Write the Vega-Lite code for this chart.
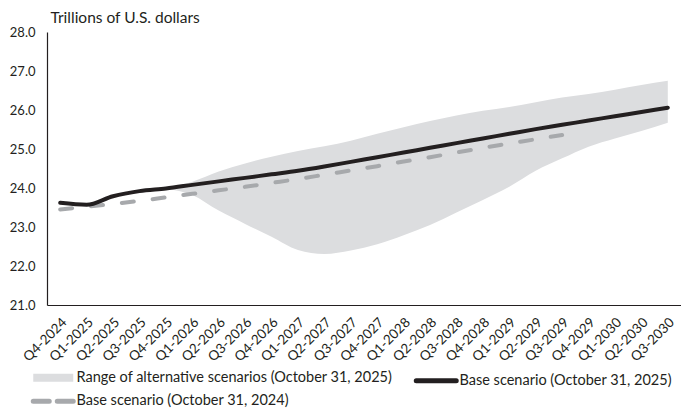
{
  "$schema": "https://vega.github.io/schema/vega-lite/v6.json",
  "width": 634,
  "height": 273,
  "autosize": {"type": "none"},
  "padding": {"left": 47, "top": 32, "right": 0, "bottom": 106},
  "background": "white",
  "config": {
    "view": {"stroke": null},
    "font": "Lato",
    "axis": {"labelColor": "#231f20", "titleColor": "#231f20", "domainColor": "#231f20", "domainWidth": 1.2, "ticks": false, "grid": false, "labelFont": "Lato", "labelFontSize": 13, "labelOverlap": false},
    "axisY": {"tickCount": 8, "labelOverlap": false},
    "legend": {"labelColor": "#231f20"}
  },
  "datasets": {
    "band": [
      {"q": "Q4-2025", "series": "Range of alternative scenarios (October 31, 2025)", "lo": 23.99, "hi": 24.0},
      {"q": "Q1-2026", "series": "Range of alternative scenarios (October 31, 2025)", "lo": 23.82, "hi": 24.16},
      {"q": "Q2-2026", "series": "Range of alternative scenarios (October 31, 2025)", "lo": 23.42, "hi": 24.42},
      {"q": "Q3-2026", "series": "Range of alternative scenarios (October 31, 2025)", "lo": 23.08, "hi": 24.63},
      {"q": "Q4-2026", "series": "Range of alternative scenarios (October 31, 2025)", "lo": 22.75, "hi": 24.8},
      {"q": "Q1-2027", "series": "Range of alternative scenarios (October 31, 2025)", "lo": 22.41, "hi": 24.95},
      {"q": "Q2-2027", "series": "Range of alternative scenarios (October 31, 2025)", "lo": 22.31, "hi": 25.07},
      {"q": "Q3-2027", "series": "Range of alternative scenarios (October 31, 2025)", "lo": 22.4, "hi": 25.21},
      {"q": "Q4-2027", "series": "Range of alternative scenarios (October 31, 2025)", "lo": 22.56, "hi": 25.39},
      {"q": "Q1-2028", "series": "Range of alternative scenarios (October 31, 2025)", "lo": 22.79, "hi": 25.56},
      {"q": "Q2-2028", "series": "Range of alternative scenarios (October 31, 2025)", "lo": 23.05, "hi": 25.72},
      {"q": "Q3-2028", "series": "Range of alternative scenarios (October 31, 2025)", "lo": 23.37, "hi": 25.86},
      {"q": "Q4-2028", "series": "Range of alternative scenarios (October 31, 2025)", "lo": 23.69, "hi": 25.98},
      {"q": "Q1-2029", "series": "Range of alternative scenarios (October 31, 2025)", "lo": 24.03, "hi": 26.08},
      {"q": "Q2-2029", "series": "Range of alternative scenarios (October 31, 2025)", "lo": 24.44, "hi": 26.2},
      {"q": "Q3-2029", "series": "Range of alternative scenarios (October 31, 2025)", "lo": 24.76, "hi": 26.32},
      {"q": "Q4-2029", "series": "Range of alternative scenarios (October 31, 2025)", "lo": 25.06, "hi": 26.41},
      {"q": "Q1-2030", "series": "Range of alternative scenarios (October 31, 2025)", "lo": 25.27, "hi": 26.52},
      {"q": "Q2-2030", "series": "Range of alternative scenarios (October 31, 2025)", "lo": 25.46, "hi": 26.64},
      {"q": "Q3-2030", "series": "Range of alternative scenarios (October 31, 2025)", "lo": 25.67, "hi": 26.75}
    ],
    "base2024": [
      {"q": "Q4-2024", "series": "Base scenario (October 31, 2024)", "v": 23.45},
      {"q": "Q1-2025", "series": "Base scenario (October 31, 2024)", "v": 23.52},
      {"q": "Q2-2025", "series": "Base scenario (October 31, 2024)", "v": 23.59},
      {"q": "Q3-2025", "series": "Base scenario (October 31, 2024)", "v": 23.67},
      {"q": "Q4-2025", "series": "Base scenario (October 31, 2024)", "v": 23.76},
      {"q": "Q1-2026", "series": "Base scenario (October 31, 2024)", "v": 23.85},
      {"q": "Q2-2026", "series": "Base scenario (October 31, 2024)", "v": 23.94},
      {"q": "Q3-2026", "series": "Base scenario (October 31, 2024)", "v": 24.03},
      {"q": "Q4-2026", "series": "Base scenario (October 31, 2024)", "v": 24.13},
      {"q": "Q1-2027", "series": "Base scenario (October 31, 2024)", "v": 24.23},
      {"q": "Q2-2027", "series": "Base scenario (October 31, 2024)", "v": 24.34},
      {"q": "Q3-2027", "series": "Base scenario (October 31, 2024)", "v": 24.45},
      {"q": "Q4-2027", "series": "Base scenario (October 31, 2024)", "v": 24.56},
      {"q": "Q1-2028", "series": "Base scenario (October 31, 2024)", "v": 24.68},
      {"q": "Q2-2028", "series": "Base scenario (October 31, 2024)", "v": 24.79},
      {"q": "Q3-2028", "series": "Base scenario (October 31, 2024)", "v": 24.91},
      {"q": "Q4-2028", "series": "Base scenario (October 31, 2024)", "v": 25.03},
      {"q": "Q1-2029", "series": "Base scenario (October 31, 2024)", "v": 25.14},
      {"q": "Q2-2029", "series": "Base scenario (October 31, 2024)", "v": 25.25},
      {"q": "Q3-2029", "series": "Base scenario (October 31, 2024)", "v": 25.36}
    ],
    "base2025": [
      {"q": "Q4-2024", "series": "Base scenario (October 31, 2025)", "v": 23.62},
      {"q": "Q1-2025", "series": "Base scenario (October 31, 2025)", "v": 23.57},
      {"q": "Q2-2025", "series": "Base scenario (October 31, 2025)", "v": 23.79},
      {"q": "Q3-2025", "series": "Base scenario (October 31, 2025)", "v": 23.92},
      {"q": "Q4-2025", "series": "Base scenario (October 31, 2025)", "v": 23.99},
      {"q": "Q1-2026", "series": "Base scenario (October 31, 2025)", "v": 24.08},
      {"q": "Q2-2026", "series": "Base scenario (October 31, 2025)", "v": 24.17},
      {"q": "Q3-2026", "series": "Base scenario (October 31, 2025)", "v": 24.26},
      {"q": "Q4-2026", "series": "Base scenario (October 31, 2025)", "v": 24.35},
      {"q": "Q1-2027", "series": "Base scenario (October 31, 2025)", "v": 24.44},
      {"q": "Q2-2027", "series": "Base scenario (October 31, 2025)", "v": 24.55},
      {"q": "Q3-2027", "series": "Base scenario (October 31, 2025)", "v": 24.67},
      {"q": "Q4-2027", "series": "Base scenario (October 31, 2025)", "v": 24.79},
      {"q": "Q1-2028", "series": "Base scenario (October 31, 2025)", "v": 24.91},
      {"q": "Q2-2028", "series": "Base scenario (October 31, 2025)", "v": 25.03},
      {"q": "Q3-2028", "series": "Base scenario (October 31, 2025)", "v": 25.15},
      {"q": "Q4-2028", "series": "Base scenario (October 31, 2025)", "v": 25.27},
      {"q": "Q1-2029", "series": "Base scenario (October 31, 2025)", "v": 25.39},
      {"q": "Q2-2029", "series": "Base scenario (October 31, 2025)", "v": 25.51},
      {"q": "Q3-2029", "series": "Base scenario (October 31, 2025)", "v": 25.62},
      {"q": "Q4-2029", "series": "Base scenario (October 31, 2025)", "v": 25.73},
      {"q": "Q1-2030", "series": "Base scenario (October 31, 2025)", "v": 25.84},
      {"q": "Q2-2030", "series": "Base scenario (October 31, 2025)", "v": 25.95},
      {"q": "Q3-2030", "series": "Base scenario (October 31, 2025)", "v": 26.06}
    ]
  },
  "encoding": {
    "x": {
      "field": "q", "type": "ordinal", "title": null,
      "scale": {"type": "point", "padding": 0.5, "domain": ["Q4-2024","Q1-2025","Q2-2025","Q3-2025","Q4-2025","Q1-2026","Q2-2026","Q3-2026","Q4-2026","Q1-2027","Q2-2027","Q3-2027","Q4-2027","Q1-2028","Q2-2028","Q3-2028","Q4-2028","Q1-2029","Q2-2029","Q3-2029","Q4-2029","Q1-2030","Q2-2030","Q3-2030"]},
      "axis": {"labelAngle": -45, "labelAlign": "right", "labelBaseline": "middle", "labelPadding": 15, "labelOffset": 4, "labelFontSize": 13.5}
    },
    "color": {
      "field": "series", "type": "nominal",
      "scale": {"domain": ["Range of alternative scenarios (October 31, 2025)", "Base scenario (October 31, 2025)", "Base scenario (October 31, 2024)"], "range": ["#dcdddf", "#231f20", "#a7a9ac"]},
      "legend": {
        "title": null, "orient": "none", "legendX": -1, "legendY": 338, "direction": "horizontal", "columns": 2,
        "columnPadding": 13, "rowPadding": -29, "symbolType": "stroke", "symbolSize": 1600,
        "labelFont": "Lato", "labelFontSize": 14.5, "labelOffset": 16, "labelLimit": 400,
        "encode": {
          "symbols": {"update": {
            "stroke": {"signal": "scale('color', datum.value)"},
            "strokeWidth": {"signal": "datum.value === 'Range of alternative scenarios (October 31, 2025)' ? 8 : 5"},
            "strokeCap": {"signal": "datum.value === 'Range of alternative scenarios (October 31, 2025)' ? 'butt' : 'round'"},
            "strokeDash": {"signal": "datum.value === 'Base scenario (October 31, 2024)' ? [16, 8] : [1, 0]"},
            "opacity": {"value": 1}
          }}
        }
      }
    }
  },
  "layer": [
    {
      "data": {"name": "band"},
      "mark": {"type": "area", "interpolate": "monotone", "opacity": 1},
      "encoding": {
        "y": {"field": "lo", "type": "quantitative", "scale": {"domain": [21, 28], "nice": false},
          "axis": {"values": [21,22,23,24,25,26,27,28], "tickCount": 8, "labelOverlap": false, "format": ".1f", "labelPadding": 12, "title": "Trillions of U.S. dollars", "titleAngle": 0, "titleAlign": "left", "titleBaseline": "middle", "titleX": 3, "titleY": -15, "titleFont": "Lato", "titleFontSize": 15.5, "titleFontWeight": "normal"}},
        "y2": {"field": "hi"}
      }
    },
    {
      "data": {"name": "base2024"},
      "mark": {"type": "line", "interpolate": "monotone", "strokeWidth": 4, "strokeDash": [12, 19], "strokeCap": "round"},
      "encoding": {"y": {"field": "v", "type": "quantitative",
          "axis": {"values": [21,22,23,24,25,26,27,28], "tickCount": 8, "labelOverlap": false, "format": ".1f", "labelPadding": 12, "title": "Trillions of U.S. dollars", "titleAngle": 0, "titleAlign": "left", "titleBaseline": "middle", "titleX": 3, "titleY": -15, "titleFont": "Lato", "titleFontSize": 15.5, "titleFontWeight": "normal"}}}
    },
    {
      "data": {"name": "base2025"},
      "mark": {"type": "line", "interpolate": "monotone", "strokeWidth": 4, "strokeCap": "round"},
      "encoding": {"y": {"field": "v", "type": "quantitative",
          "axis": {"values": [21,22,23,24,25,26,27,28], "tickCount": 8, "labelOverlap": false, "format": ".1f", "labelPadding": 12, "title": "Trillions of U.S. dollars", "titleAngle": 0, "titleAlign": "left", "titleBaseline": "middle", "titleX": 3, "titleY": -15, "titleFont": "Lato", "titleFontSize": 15.5, "titleFontWeight": "normal"}}}
    }
  ]
}
